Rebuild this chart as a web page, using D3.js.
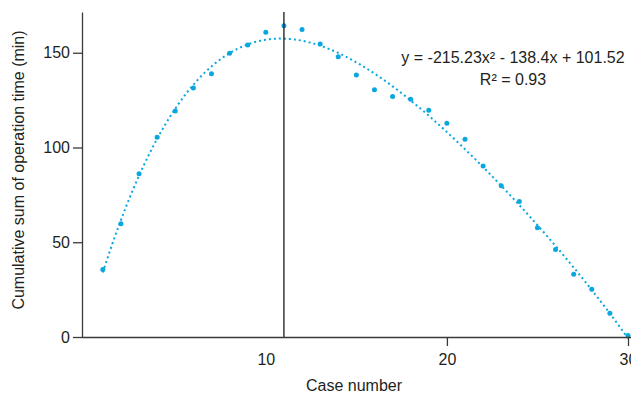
<!DOCTYPE html>
<html>
<head>
<meta charset="utf-8">
<script src="https://cdn.jsdelivr.net/npm/d3@7"></script>
<style>
  html, body { margin: 0; padding: 0; background: #fff; }
  svg { display: block; font-family: "Liberation Sans", Arial, Helvetica, sans-serif; }
</style>
</head>
<body>
<div id="chart"></div>
<script>
// Case numbers and cumulative sum of operation time (min)
const caseNumbers = [1, 2, 3, 4, 5, 6, 7, 8, 9, 10, 11, 12, 13, 14, 15,
                     16, 17, 18, 19, 20, 21, 22, 23, 24, 25, 26, 27, 28, 29, 30];
const cusumValues = [35.6, 59.7, 86.2, 105.4, 119.3, 131.4, 138.9, 149.7, 154.1, 160.8,
                     164.2, 162.2, 154.6, 147.9, 138.2, 130.5, 126.9, 125.5, 119.7, 112.8,
                     104.4, 90.2, 79.8, 71.5, 57.6, 46.2, 33.1, 25.2, 12.5, 0.8];
const xTicks = [10, 20, 30];
const yTicks = [0, 50, 100, 150];
const cutoffCase = 11;
const equationLines = ['y = -215.23x² - 138.4x + 101.52', 'R² = 0.93'];

const width = 631;
const height = 395;
const colorPoint = '#0aa6de';
const colorAxis = '#3a3a3a';
const colorText = '#231f20';

const svg = d3.select('#chart')
    .append('svg')
    .attr('width', width)
    .attr('height', height);

// Scales
const xScale = d3.scaleLinear()
    .domain([-0.15, 30])
    .range([82, 628]);

const yScale = d3.scaleLinear()
    .domain([0, 171.5])
    .range([337, 12]);

// Least-squares polynomial trend through the points (normal equations, Gauss elimination)
function polyFit(xs, ys, degree) {
    const n = degree + 1;
    const a = d3.range(n).map(r => d3.range(n + 1).map(c =>
        c < n ? d3.sum(xs, x => Math.pow(x, r + c)) : d3.sum(xs, (x, i) => ys[i] * Math.pow(x, r))));
    for (let p = 0; p < n; p++) {
        for (let r = p + 1; r < n; r++) {
            const f = a[r][p] / a[p][p];
            for (let c = p; c <= n; c++) a[r][c] -= f * a[p][c];
        }
    }
    const coef = new Array(n).fill(0);
    for (let r = n - 1; r >= 0; r--) {
        let s = a[r][n];
        for (let c = r + 1; c < n; c++) s -= a[r][c] * coef[c];
        coef[r] = s / a[r][r];
    }
    return x => coef.reduce((acc, k, i) => acc + k * Math.pow(x, i), 0);
}

const fit = polyFit(caseNumbers, cusumValues, 4);
const trend = d3.range(caseNumbers[0], caseNumbers[caseNumbers.length - 1] + 0.001, 0.1)
    .map(x => [x, fit(x)]);

svg.append('path')
    .datum(trend)
    .attr('fill', 'none')
    .attr('stroke', colorPoint)
    .attr('stroke-width', 2)
    .attr('stroke-dasharray', '2,3')
    .attr('d', d3.line().x(d => xScale(d[0])).y(d => yScale(d[1])));

// Points
svg.append('g')
    .selectAll('circle')
    .data(caseNumbers)
    .join('circle')
    .attr('cx', d => xScale(d))
    .attr('cy', (d, i) => yScale(cusumValues[i]))
    .attr('r', 2.5)
    .attr('fill', colorPoint);

// Vertical cut-off line
svg.append('line')
    .attr('x1', xScale(cutoffCase))
    .attr('x2', xScale(cutoffCase))
    .attr('y1', yScale.range()[1])
    .attr('y2', yScale(0))
    .attr('stroke', '#1a1a1a')
    .attr('stroke-width', 1.3);

// Y axis
const yAxis = svg.append('g')
    .attr('transform', `translate(${xScale.range()[0]},0)`)
    .call(d3.axisLeft(yScale).tickValues(yTicks).tickSize(9).tickPadding(3).tickSizeOuter(0));

// X axis (no tick mark at 10, only its label)
const xAxis = svg.append('g')
    .attr('transform', `translate(0,${yScale(0)})`)
    .call(d3.axisBottom(xScale).tickValues(xTicks).tickSize(9).tickPadding(8).tickSizeOuter(0));

xAxis.selectAll('.tick').filter(d => d === 10).select('line').remove();
xAxis.select('.domain').attr('d', `M${xScale.range()[0]},0.5H${width}`);

[yAxis, xAxis].forEach(ax => {
    ax.select('.domain').attr('stroke', colorAxis).attr('stroke-width', 1.3);
    ax.selectAll('.tick line').attr('stroke', colorAxis).attr('stroke-width', 1.3);
    ax.selectAll('.tick text')
        .attr('fill', colorText)
        .style('font-size', '16px')
        .style('font-family', '"Liberation Sans", Arial, sans-serif');
});

// Axis titles
svg.append('text')
    .attr('transform', `translate(24,${170}) rotate(-90)`)
    .attr('text-anchor', 'middle')
    .attr('fill', colorText)
    .style('font-size', '16px')
    .text('Cumulative sum of operation time (min)');

svg.append('text')
    .attr('x', 354)
    .attr('y', 391)
    .attr('text-anchor', 'middle')
    .attr('fill', colorText)
    .style('font-size', '16px')
    .text('Case number');

// Trend equation
svg.append('g')
    .selectAll('text')
    .data(equationLines)
    .join('text')
    .attr('x', 513)
    .attr('y', (d, i) => 63 + i * 22)
    .attr('text-anchor', 'middle')
    .attr('fill', colorText)
    .style('font-size', '16px')
    .text(d => d);
</script>
</body>
</html>
